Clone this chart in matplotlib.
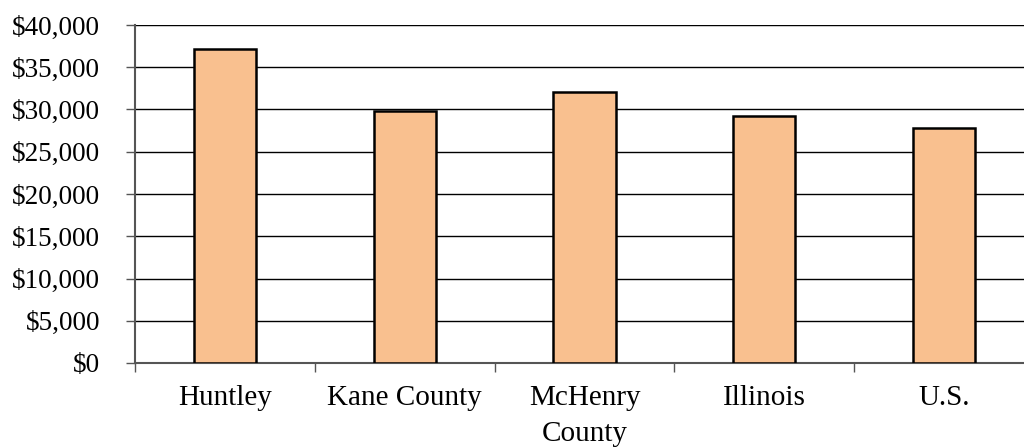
import matplotlib
matplotlib.use("Agg")
import matplotlib.pyplot as plt
from matplotlib.ticker import FuncFormatter, MultipleLocator, FixedLocator

categories = ["Huntley", "Kane County", "McHenry\nCounty", "Illinois", "U.S."]
values = [37200, 29800, 32100, 29200, 27800]

plt.rcParams["font.family"] = ["Liberation Serif", "DejaVu Serif"]

fig = plt.figure(figsize=(10.24, 4.47), dpi=100)
W, H = 1024, 447
left, right, top, bottom = 135, 1034, 25, 363
ax = fig.add_axes([left / W, (H - bottom) / H, (right - left) / W, (bottom - top) / H])

x = list(range(len(categories)))
ax.bar(x, values, width=0.345, color="#F9C08F", edgecolor="black", linewidth=1.8, zorder=3)

ax.set_xlim(-0.5, len(categories) - 0.5)
ax.set_ylim(0, 40000)
ax.yaxis.set_major_locator(MultipleLocator(5000))
ax.yaxis.set_major_formatter(FuncFormatter(lambda v, p: f"${v:,.0f}"))
ax.grid(axis="y", color="black", linewidth=1.0, zorder=0)

ax.set_xticks(x)
ax.set_xticklabels(categories, linespacing=1.5)
ax.tick_params(axis="x", which="major", length=0, pad=16, labelsize=21)
ax.xaxis.set_minor_locator(FixedLocator([i + 0.5 for i in range(-1, len(categories))]))
ax.tick_params(axis="x", which="minor", length=6.5, width=1.0, color="#555555", direction="out")
ax.tick_params(axis="y", length=6.5, width=1.0, color="#555555", labelsize=19.5, pad=18.5)

for s in ("top", "right"):
    ax.spines[s].set_visible(False)
ax.spines["left"].set_color("#555555")
ax.spines["left"].set_linewidth(1.5)
ax.spines["bottom"].set_color("#555555")
ax.spines["bottom"].set_linewidth(1.5)
ax.axhline(40000, color="#808080", linewidth=1.5, zorder=1)

fig.savefig("out.png", dpi=100)
